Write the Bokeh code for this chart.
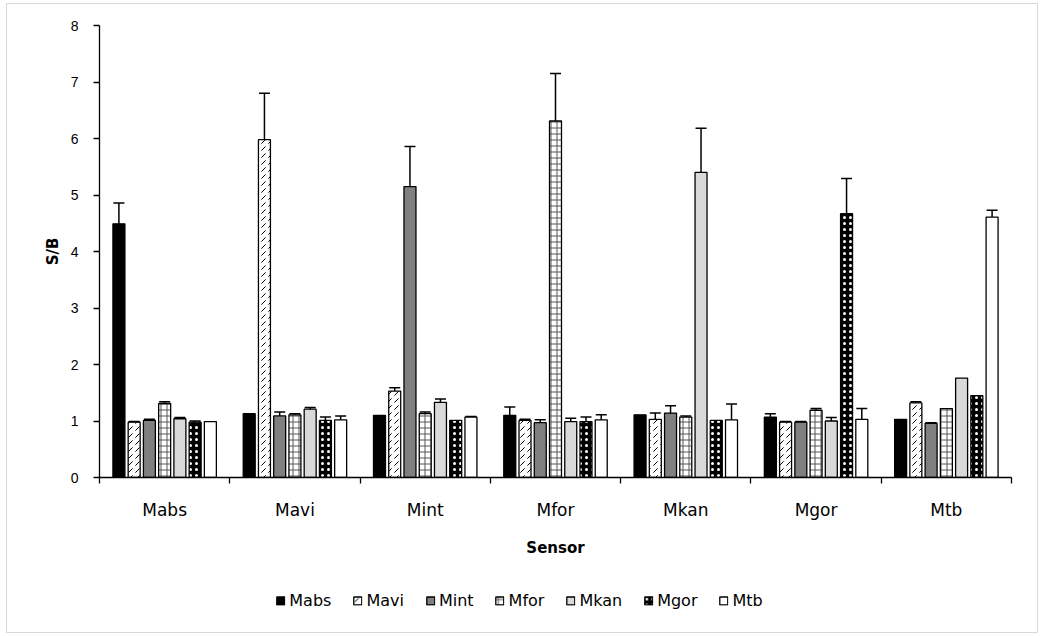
import numpy as np
from bokeh.plotting import figure
from bokeh.layouts import column
from bokeh.models import (ColumnDataSource, FixedTicker, Whisker, TeeHead,
                          Legend, LegendItem, Range1d)
from bokeh.embed import file_html
from bokeh.resources import INLINE

# ---------------- data ----------------
categories = ["Mabs", "Mavi", "Mint", "Mfor", "Mkan", "Mgor", "Mtb"]
series_names = ["Mabs", "Mavi", "Mint", "Mfor", "Mkan", "Mgor", "Mtb"]

# S/B values per series across the sensor categories
mabs = [4.49, 1.13, 1.10, 1.10, 1.11, 1.07, 1.03]
mavi = [0.98, 5.98, 1.53, 1.01, 1.03, 0.98, 1.32]
mint = [1.01, 1.09, 5.15, 0.97, 1.14, 0.98, 0.96]
mfor = [1.31, 1.11, 1.13, 6.31, 1.07, 1.19, 1.22]
mkan = [1.04, 1.21, 1.33, 0.99, 5.40, 1.00, 1.76]
mgor = [0.98, 1.01, 1.01, 0.99, 1.01, 4.67, 1.45]
mtb = [0.99, 1.02, 1.07, 1.02, 1.02, 1.03, 4.61]

# error bar half-lengths
mabs_err = [0.37, 0.00, 0.00, 0.15, 0.00, 0.06, 0.00]
mavi_err = [0.01, 0.82, 0.06, 0.02, 0.11, 0.01, 0.02]
mint_err = [0.02, 0.07, 0.71, 0.05, 0.13, 0.01, 0.01]
mfor_err = [0.03, 0.02, 0.03, 0.84, 0.02, 0.03, 0.00]
mkan_err = [0.02, 0.03, 0.06, 0.06, 0.78, 0.06, 0.00]
mgor_err = [0.02, 0.06, 0.00, 0.08, 0.00, 0.62, 0.00]
mtb_err = [0.00, 0.07, 0.01, 0.09, 0.28, 0.19, 0.12]

y_ticks = [0, 1, 2, 3, 4, 5, 6, 7, 8]

values = [mabs, mavi, mint, mfor, mkan, mgor, mtb]
errors = [mabs_err, mavi_err, mint_err, mfor_err, mkan_err, mgor_err, mtb_err]

# ---------------- styles ----------------
styles = [
    dict(fill_color="black", hatch_pattern=None),
    dict(fill_color="white", hatch_pattern="right_diagonal_dash", hatch_color="black", hatch_scale=7, hatch_weight=1),
    dict(fill_color="#808080", hatch_pattern=None),
    dict(fill_color="white", hatch_pattern="cross", hatch_color="#555555", hatch_scale=6, hatch_weight=1),
    dict(fill_color="#d9d9d9", hatch_pattern=None),
    dict(fill_color="black", hatch_pattern="dot", hatch_color="white", hatch_scale=6, hatch_weight=1.5),
    dict(fill_color="white", hatch_pattern=None),
]

FONT = "DejaVu Sans"
TICKFONT = "Liberation Sans"

p = figure(frame_width=912, frame_height=452, output_backend="svg", toolbar_location=None,
           x_range=Range1d(0, len(categories)), y_range=Range1d(0, 8),
           min_border_left=92, min_border_right=26, min_border_top=21, min_border_bottom=88)
p.outline_line_color = None
p.xgrid.grid_line_color = None
p.ygrid.grid_line_color = None
p.background_fill_color = "white"
p.border_fill_color = "white"

# separate strip below the chart for the legend
lf = figure(width=1030, height=67, output_backend="svg", toolbar_location=None,
            x_axis_location=None, y_axis_location=None,
            x_range=Range1d(0, 1), y_range=Range1d(0, 1),
            min_border_left=0, min_border_right=98, min_border_top=3, min_border_bottom=0)
lf.outline_line_color = None
lf.xgrid.grid_line_color = None
lf.ygrid.grid_line_color = None
lf.border_fill_color = "white"

pitch = 0.117
width = 0.092
n = len(series_names)
idx = np.arange(len(categories))
items = []
for j, name in enumerate(series_names):
    x = idx + 0.5 + (j - (n - 1) / 2) * pitch
    v = np.array(values[j])
    e = np.array(errors[j])
    src = ColumnDataSource(dict(x=x, top=v))
    st = dict(styles[j])
    hp = st.pop("hatch_pattern")
    kw = dict(x="x", top="top", bottom=0, width=width,
              line_color="black", line_width=1.3, fill_color=st["fill_color"])
    if hp:
        kw.update(hatch_pattern=hp, hatch_color=st["hatch_color"],
                  hatch_scale=st["hatch_scale"], hatch_weight=st["hatch_weight"])
    p.vbar(source=src, **kw)
    # legend swatch renderer: one undrawn (NaN) row, only its style is shown
    lr = lf.vbar(source=ColumnDataSource(dict(x=[np.nan], top=[np.nan])), **kw)
    items.append(LegendItem(label=name, renderers=[lr]))
    mask = e > 0
    esrc = ColumnDataSource(dict(x=x[mask], up=(v + e)[mask], lo=(v - e)[mask]))
    w = Whisker(base="x", upper="up", lower="lo", source=esrc, dimension="height",
                line_color="black", line_width=1.5,
                upper_head=TeeHead(size=11, line_width=1.5, line_color="black"),
                lower_head=TeeHead(size=11, line_width=1.5, line_color="black"))
    p.add_layout(w)

# x axis: labels at category centres, ticks at boundaries
xa = p.xaxis[0]
xa.ticker = FixedTicker(ticks=list(idx + 0.5), minor_ticks=list(range(len(categories) + 1)))
xa.major_label_overrides = {float(i + 0.5): c for i, c in enumerate(categories)}
xa.major_tick_line_color = None
xa.major_tick_out = 0
xa.major_tick_in = 0
xa.minor_tick_line_color = "black"
xa.minor_tick_out = 6
xa.minor_tick_in = 0
xa.minor_tick_line_width = 1.3
xa.axis_line_color = "black"
xa.axis_line_width = 1.3
xa.major_label_text_font = FONT
xa.major_label_text_font_size = "17px"
xa.major_label_text_color = "black"
xa.major_label_standoff = 16
xa.axis_label = "Sensor"
xa.axis_label_text_font = FONT
xa.axis_label_text_font_style = "bold"
xa.axis_label_text_font_size = "15px"
xa.axis_label_text_color = "black"
xa.axis_label_standoff = 16

ya = p.yaxis[0]
ya.ticker = FixedTicker(ticks=y_ticks, minor_ticks=[])
ya.major_tick_out = 6
ya.major_tick_in = 0
ya.major_tick_line_color = "black"
ya.major_tick_line_width = 1.3
ya.minor_tick_line_color = None
ya.axis_line_color = "black"
ya.axis_line_width = 1.3
ya.major_label_text_font = TICKFONT
ya.major_label_text_font_size = "14px"
ya.major_label_text_color = "black"
ya.major_label_standoff = 15
ya.axis_label = "S/B"
ya.axis_label_text_font = FONT
ya.axis_label_text_font_style = "bold"
ya.axis_label_text_font_size = "15px"
ya.axis_label_text_color = "black"
ya.axis_label_standoff = 6

legend = Legend(items=items, orientation="horizontal", location="center",
                label_text_font=FONT, label_text_font_size="16px",
                label_text_color="black",
                glyph_width=10, glyph_height=10, label_standoff=4, spacing=21,
                border_line_color=None, background_fill_alpha=0,
                padding=4, margin=0)
lf.add_layout(legend, "center")

layout = column(p, lf, spacing=0)
layout.styles = {"border": "1px solid #d9d9d9", "margin": "3px 0 0 6px"}
open("out.html", "w").write(file_html(layout, INLINE))
